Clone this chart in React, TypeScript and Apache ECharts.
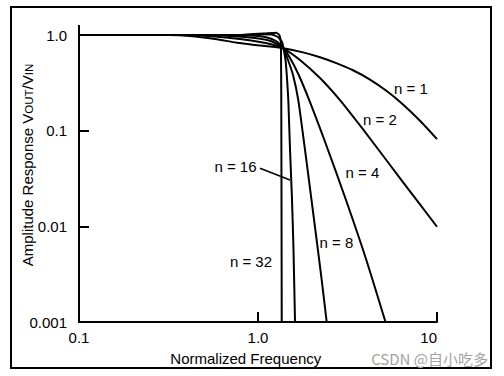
import React, { useEffect, useRef } from 'react';
import * as echarts from 'echarts';

// Normalized frequency / amplitude samples, one pair of arrays per order n
const seriesNames = ['n = 1', 'n = 2', 'n = 4', 'n = 8', 'n = 16', 'n = 32'];

const freqN1 = [0.1, 0.322, 0.417, 0.575, 0.763, 1.026, 1.384, 1.784, 2.22, 2.762, 3.394, 4.224, 5.258, 6.458, 8.035, 10];
const ampN1 = [1.0, 1.0, 0.976, 0.908, 0.831, 0.777, 0.726, 0.658, 0.585, 0.505, 0.428, 0.342, 0.258, 0.188, 0.127, 0.0816];

const freqN2 = [0.1, 0.417, 0.575, 0.793, 1.026, 1.197, 1.384, 1.716, 2.22, 2.871, 3.483, 4.224, 6.482, 10];
const ampN2 = [1.0, 1.0, 0.964, 0.908, 0.845, 0.796, 0.726, 0.548, 0.355, 0.209, 0.1324, 0.0828, 0.0287, 0.0099];

const freqN4 = [0.1, 0.474, 0.698, 0.962, 1.197, 1.384, 1.51, 1.679, 1.932, 2.349, 3.101, 3.996, 5.156];
const ampN4 = [1.0, 1.0, 0.976, 0.93, 0.855, 0.726, 0.575, 0.391, 0.209, 0.0799, 0.01885, 0.00467, 0.001];

const freqN8 = [0.1, 0.613, 0.902, 1.094, 1.261, 1.384, 1.471, 1.569, 1.679, 1.831, 1.99, 2.126, 2.269, 2.42];
const ampN8 = [1.0, 1.0, 0.988, 0.953, 0.866, 0.726, 0.548, 0.382, 0.209, 0.0628, 0.01885, 0.0072, 0.00275, 0.001];

const freqN16 = [0.1, 0.793, 1.053, 1.197, 1.293, 1.362, 1.388, 1.424, 1.452, 1.477, 1.51, 1.549, 1.579, 1.61];
const ampN16 = [1.0, 1.0, 1.017, 1.012, 0.953, 0.845, 0.731, 0.548, 0.355, 0.209, 0.0628, 0.01885, 0.00566, 0.001];

const freqN32 = [0.1, 0.793, 1.094, 1.261, 1.31, 1.335, 1.344, 1.349, 1.353, 1.357];
const ampN32 = [1.0, 1.0, 1.037, 1.057, 1.012, 0.908, 0.697, 0.209, 0.01885, 0.001];

// leader line from the "n = 16" label to its curve (data coordinates)
const leaderFreq = [1.026, 1.51];
const leaderAmp = [0.0404, 0.0305];

const xTickValues = [0.1, 1, 10];
const xTickLabels = ['0.1', '1.0', '10'];
const yTickValues = [0.001, 0.01, 0.1, 1];
const yTickLabels = ['0.001', '0.01', '0.1', '1.0'];

const FONT = "'Liberation Sans', Arial, Helvetica, sans-serif";

function pickLabel(v: number, values: number[], labels: string[]) {
  let best = 0;
  let bestD = Infinity;
  values.forEach((t, i) => {
    const d = Math.abs(Math.log10(v) - Math.log10(t));
    if (d < bestD) {
      bestD = d;
      best = i;
    }
  });
  return bestD < 0.01 ? labels[best] : '';
}

export default function App() {
  const ref = useRef<HTMLDivElement>(null);

  useEffect(() => {
    if (!ref.current) return;
    const chart = echarts.init(ref.current, null, { renderer: 'svg' });

    const freqs = [freqN1, freqN2, freqN4, freqN8, freqN16, freqN32];
    const amps = [ampN1, ampN2, ampN4, ampN8, ampN16, ampN32];
    const smooths = [0.3, 0.3, 0.25, 0.2, 0.12, 0.08];

    const series: any[] = seriesNames.map((name, i) => ({
      name,
      type: 'line',
      data: freqs[i].map((f, j) => [f, amps[i][j]]),
      showSymbol: false,
      symbol: 'none',
      smooth: smooths[i],
      clip: false,
      lineStyle: { color: '#000', width: 2 },
      silent: true,
    }));

    series[4].markLine = {
      silent: true,
      symbol: ['none', 'none'],
      label: { show: false },
      lineStyle: { color: '#000', width: 1.5, type: 'solid' },
      data: [[
        { coord: [leaderFreq[0], leaderAmp[0]] },
        { coord: [leaderFreq[1], leaderAmp[1]] },
      ]],
    };

    const labelText = (text: string, x: number, y: number) => ({
      type: 'text',
      x,
      y,
      style: {
        text,
        fontSize: 15,
        fontFamily: FONT,
        fill: '#000',
        align: 'center',
        verticalAlign: 'middle',
      },
    });

    chart.setOption({
      animation: false,
      backgroundColor: '#fff',
      grid: {
        left: 79,
        right: 67,
        top: 35,
        bottom: 54,
        containLabel: false,
        outerBoundsMode: 'none',
      },
      xAxis: {
        type: 'log',
        logBase: 10,
        min: 0.1,
        max: 10,
        axisLine: { show: true, onZero: false, lineStyle: { color: '#000', width: 2 } },
        axisTick: { show: true, inside: true, length: 10, lineStyle: { color: '#000', width: 2 } },
        minorTick: { show: false },
        splitLine: { show: false },
        axisLabel: {
          margin: 8,
          fontSize: 15,
          fontFamily: FONT,
          color: '#000',
          alignMaxLabel: 'right',
          formatter: (v: number) => pickLabel(v, xTickValues, xTickLabels),
        },
      },
      yAxis: {
        type: 'log',
        logBase: 10,
        min: 0.001,
        max: 1,
        axisLine: { show: true, onZero: false, lineStyle: { color: '#000', width: 2 } },
        axisTick: { show: true, inside: true, length: 10, lineStyle: { color: '#000', width: 2 } },
        minorTick: { show: false },
        splitLine: { show: false },
        axisLabel: {
          margin: 12,
          fontSize: 15,
          fontFamily: FONT,
          color: '#000',
          formatter: (v: number) => pickLabel(v, yTickValues, yTickLabels),
        },
      },
      series,
      graphic: [
        {
          type: 'rect',
          shape: { x: 11, y: 7, width: 480, height: 361 },
          style: { fill: 'none', stroke: '#000', lineWidth: 2 },
          silent: true,
        },
        {
          type: 'line',
          shape: { x1: 79, y1: 25, x2: 79, y2: 36 },
          style: { stroke: '#000', lineWidth: 2 },
          silent: true,
        },
        labelText('n = 1', 411, 88),
        labelText('n = 2', 380, 119),
        labelText('n = 4', 362.5, 172),
        labelText('n = 8', 336.5, 242),
        labelText('n = 16', 235.5, 166),
        labelText('n = 32', 251, 261),
        {
          type: 'text',
          x: 245.8,
          y: 358,
          style: {
            text: 'Normalized Frequency',
            fontSize: 15,
            fontFamily: FONT,
            fill: '#000',
            align: 'center',
            verticalAlign: 'middle',
          },
        },
        {
          type: 'text',
          x: 27,
          y: 165,
          rotation: Math.PI / 2,
          style: {
            text: 'Amplitude Response V{s|OUT}/V{s|IN}',
            fontSize: 15,
            fontFamily: FONT,
            fill: '#000',
            align: 'center',
            verticalAlign: 'middle',
            rich: {
              s: { fontSize: 11.5, fontFamily: FONT, fill: '#000', verticalAlign: 'bottom' },
            },
          },
        },
        {
          type: 'text',
          x: 488,
          y: 358,
          style: {
            text: 'CSDN @自小吃多',
            fontSize: 15,
            fontFamily: "'Noto Sans CJK SC', 'Noto Sans', sans-serif",
            fill: '#a3a3a3',
            align: 'right',
            verticalAlign: 'middle',
          },
        },
      ],
    });

    return () => chart.dispose();
  }, []);

  return (
    <div
      ref={ref}
      style={{ position: 'fixed', left: 0, top: 0, width: 504, height: 376, background: '#fff' }}
    />
  );
}
